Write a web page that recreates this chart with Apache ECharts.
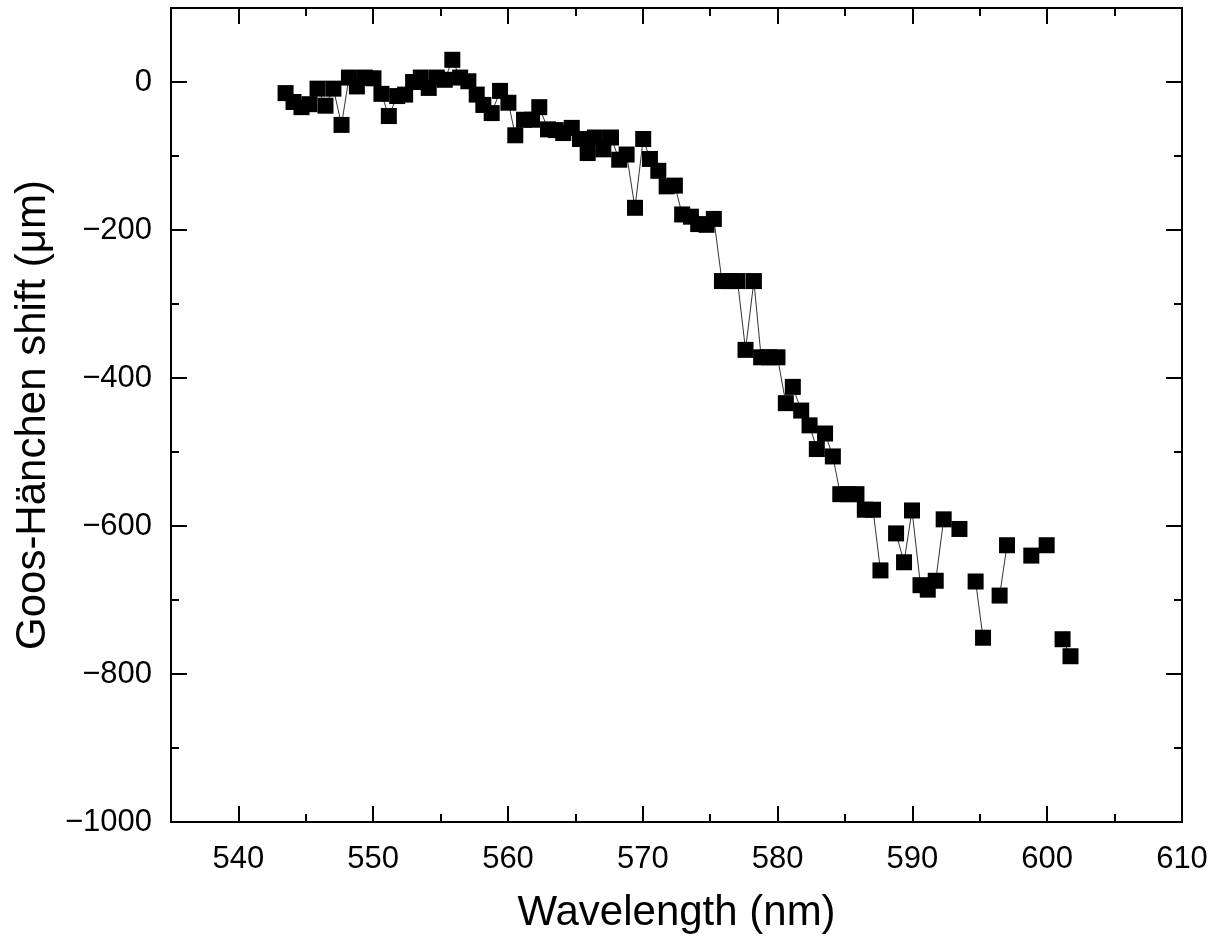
<!DOCTYPE html>
<html>
<head>
<meta charset="utf-8">
<script src="https://cdn.jsdelivr.net/npm/echarts@6/dist/echarts.min.js"></script>
<style>
html,body{margin:0;padding:0;background:#fff;}
#chart{width:1213px;height:941px;}
</style>
</head>
<body>
<div id="chart"></div>
<script>
// Wavelength (nm) of each measurement slot; null shift = missing point (gap in line)
const wavelength = [
  543.50, 544.09, 544.68, 545.27, 545.87, 546.46, 547.05, 547.65, 548.20, 548.79,
  549.38, 550.02, 550.61, 551.16, 551.78, 552.37, 552.96, 553.53, 554.12, 554.72,
  555.31, 555.87, 556.45, 557.06, 557.68, 558.17, 558.79, 559.41, 560.03, 560.54,
  561.19, 561.78, 562.32, 562.97, 563.54, 564.10, 564.73, 565.34, 565.91, 566.45,
  567.07, 567.64, 568.25, 568.80, 569.42, 570.03, 570.53, 571.15, 571.77, 572.38,
  572.92, 573.57, 574.11, 574.73, 575.27, 575.87, 576.46, 577.03, 577.62, 578.24,
  578.78, 579.37, 579.99, 580.61, 581.13, 581.75, 582.37, 582.91, 583.52, 584.10,
  584.65, 585.26, 585.85, 586.47, 587.08, 587.63, 588.20, 588.79, 589.38, 589.97,
  590.60, 591.14, 591.73, 592.32, 592.90, 593.49, 594.10, 594.69, 595.24, 595.85,
  596.47, 597.02, 597.60, 598.20, 598.82, 599.40, 599.96, 600.55, 601.14, 601.73
];
const ghShift = [
  -15, -27, -34, -30, -9, -32, -9, -58, 6, -6,
  6, 5, -16, -46, -19, -17, 0, 6, -8, 6,
  3, 30, 6, 1, -17, -31, -42, -12, -28, -72,
  -51, -51, -34, -64, -65, -69, -62, -77, -96, -75,
  -91, -75, -105, -98, -170, -77, -104, -120, -141, -140,
  -179, -182, -192, -193, -185, -269, -269, -269, -362, -269,
  -372, -372, -372, -434, -412, -444, -464, -496, -475, -506,
  -557, -557, -557, -578, -578, -660, null, -610, -649, -579,
  -680, -686, -674, -591, null, -604, null, -675, -751, null,
  -694, -626, null, null, -640, null, -626, null, -753, -776
];
const xTickLabels = [540, 550, 560, 570, 580, 590, 600, 610];
const yTickLabels = [0, -200, -400, -600, -800, -1000];

const seriesData = wavelength.map((w, i) => [w, ghShift[i] === null ? '-' : ghShift[i]]);

const FONT = "'Liberation Sans', Arial, sans-serif";
const tickFont = 31;
const titleFont = 42;

function xAxisCfg(pos, major, withLabels) {
  return {
    type: 'value', position: pos, min: 535, max: 610,
    splitNumber: major ? 8 : undefined,
    interval: major ? undefined : 5,
    axisLine: { show: true, onZero: false, lineStyle: { color: '#000', width: 2 } },
    axisTick: { show: true, inside: true, length: major ? 16 : 8, lineStyle: { color: '#000', width: 2 } },
    axisLabel: withLabels ? {
      show: true, margin: 22, color: '#000', fontFamily: FONT, fontSize: tickFont,
      showMinLabel: false,
      formatter: v => (xTickLabels.indexOf(v) >= 0 ? String(v) : '')
    } : { show: false },
    splitLine: { show: false },
    name: withLabels ? 'Wavelength (nm)' : '',
    nameLocation: 'middle', nameGap: 70,
    nameTextStyle: { color: '#000', fontFamily: FONT, fontSize: titleFont }
  };
}
function yAxisCfg(pos, major, withLabels) {
  return {
    type: 'value', position: pos, min: -1000, max: 100,
    interval: major ? 200 : 100,
    axisLine: { show: true, onZero: false, lineStyle: { color: '#000', width: 2 } },
    axisTick: { show: true, inside: true, length: major ? 16 : 8, lineStyle: { color: '#000', width: 2 } },
    axisLabel: withLabels ? {
      show: true, margin: 19, color: '#000', fontFamily: FONT, fontSize: tickFont,
      showMaxLabel: false,
      formatter: v => (yTickLabels.indexOf(v) >= 0 ? String(v).replace('-', '\u2212') : '')
    } : { show: false },
    splitLine: { show: false },
    name: withLabels ? 'Goos-H\u00e4nchen shift (\u03bcm)' : '',
    nameLocation: 'middle', nameGap: 115,
    nameTextStyle: { color: '#000', fontFamily: FONT, fontSize: titleFont }
  };
}

const chart = echarts.init(document.getElementById('chart'), null, { renderer: 'canvas' });
chart.setOption({
  animation: false,
  backgroundColor: '#fff',
  grid: { left: 171, right: 31, top: 8, bottom: 119, containLabel: false },
  xAxis: [
    xAxisCfg('bottom', true, true),
    xAxisCfg('bottom', false, false),
    xAxisCfg('top', true, false),
    xAxisCfg('top', false, false)
  ],
  yAxis: [
    yAxisCfg('left', true, true),
    yAxisCfg('left', false, false),
    yAxisCfg('right', true, false),
    yAxisCfg('right', false, false)
  ],
  series: [{
    type: 'line',
    xAxisIndex: 0, yAxisIndex: 0,
    data: seriesData,
    connectNulls: false,
    showSymbol: true, showAllSymbol: true,
    symbol: 'rect', symbolSize: 16,
    itemStyle: { color: '#000' },
    lineStyle: { color: '#333', width: 1 },
    emphasis: { disabled: true }
  }]
});
</script>
</body>
</html>
